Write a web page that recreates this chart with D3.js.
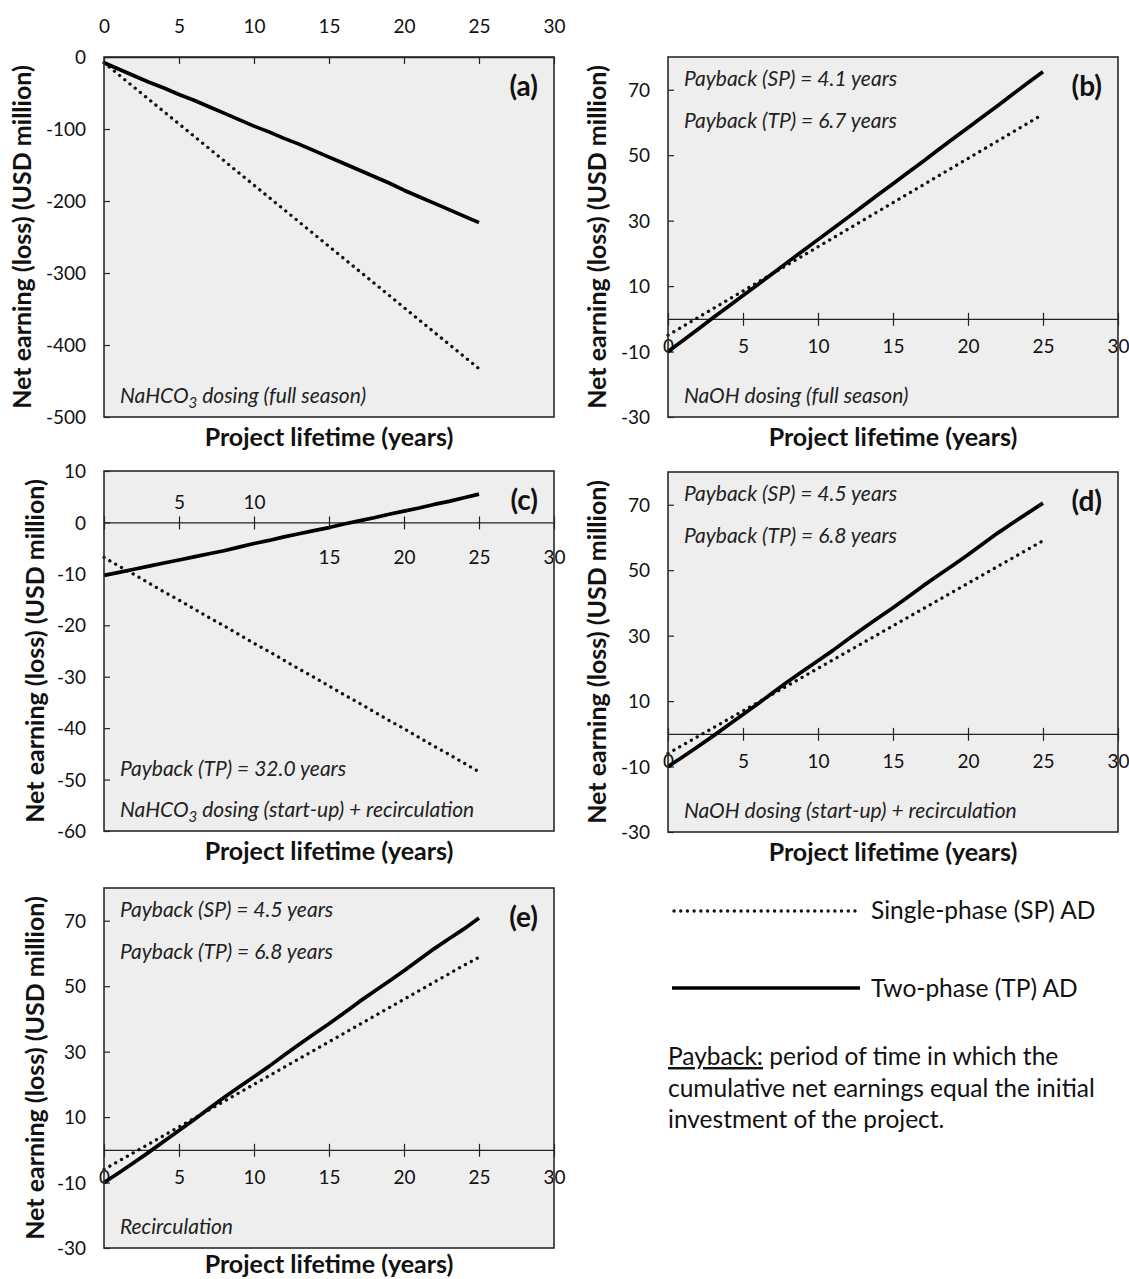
<!DOCTYPE html>
<html>
<head>
<meta charset="utf-8">
<script src="https://cdn.jsdelivr.net/npm/d3@7"></script>
<style>
body { margin: 0; background: #fff; }
svg text { font-family: Lato, "Open Sans", sans-serif; fill: #111; }
</style>
</head>
<body>
<div id="chart"></div>
<script>
// ------------------------------------------------------------------
//	net earnings over project lifetime, five scenarios
// ------------------------------------------------------------------
const years = [0,1,2,3,4,5,6,7,8,9,10,11,12,13,14,15,16,17,18,19,20,21,22,23,24,25]

const x_ticks = [0,5,10,15,20,25,30]
const y_ticks_a = [0,-100,-200,-300,-400,-500]
const y_ticks_c = [10,0,-10,-20,-30,-40,-50,-60]
const y_ticks_bde = [70,50,30,10,-10,-30]

// (a) NaHCO3 dosing (full season)
const a_sp = [-8,-25,-42,-59,-76,-93,-110,-127,-144,-161,-178,-195,-212,-229,-246,-263,-280,-297,-314,-331,-348,-365,-382,-399,-416,-433]
const a_tp = [-8,-17,-26,-35,-43,-52,-60,-69,-78,-87,-96,-104,-113,-121,-130,-139,-148,-157,-166,-175,-185,-194,-203,-212,-221,-230]

// (b) NaOH dosing (full season)
const b_sp = [-5,-2.3,0.4,3.1,5.8,8.5,11.2,13.9,16.6,19.3,22,24.7,27.4,30.1,32.8,35.5,38.2,40.9,43.6,46.3,49,51.7,54.4,57.1,59.8,62.5]
const b_tp = [-10,-6.6,-3.2,0.3,3.7,7.1,10.5,13.9,17.4,20.8,24.2,27.6,31,34.5,37.9,41.3,44.7,48.1,51.6,55,58.4,61.8,65.2,68.7,72.1,75.5]

// (c) NaHCO3 dosing (start-up) + recirculation
const c_sp = [-6.8,-8.5,-10.1,-11.8,-13.5,-15.1,-16.8,-18.5,-20.1,-21.8,-23.5,-25.1,-26.8,-28.5,-30.1,-31.8,-33.5,-35.1,-36.8,-38.5,-40.1,-41.8,-43.5,-45.1,-46.8,-48.5]
const c_tp = [-10.3,-9.7,-9.1,-8.5,-7.9,-7.3,-6.7,-6.1,-5.5,-4.8,-4.1,-3.5,-2.8,-2.2,-1.6,-1,-0.3,0.3,0.9,1.6,2.2,2.8,3.5,4.1,4.8,5.5]

// (d) NaOH dosing (start-up) + recirculation
const d_sp = [-6,-3.4,-0.8,1.8,4.4,7,9.6,12.2,14.8,17.4,20,22.6,25.2,27.8,30.4,33,35.6,38.2,40.8,43.4,46,48.6,51.2,53.8,56.4,59]
const d_tp = [-10,-7,-3.9,-0.7,2.6,5.9,9.2,12.6,16,19.2,22.3,25.5,28.9,32.2,35.4,38.5,41.8,45.2,48.4,51.5,54.7,58.1,61.4,64.5,67.5,70.5]

// (e) Recirculation
const e_sp = [-6,-3.4,-0.8,1.8,4.4,7,9.6,12.2,14.8,17.4,20,22.6,25.2,27.8,30.4,33,35.6,38.2,40.8,43.4,46,48.6,51.2,53.8,56.4,58.8]
const e_tp = [-10,-7,-3.9,-0.7,2.6,5.9,9.2,12.6,16,19.2,22.3,25.5,28.9,32.2,35.4,38.5,41.8,45.2,48.4,51.5,54.7,58.1,61.4,64.5,67.5,70.8]

const legend_labels = ["Single-phase (SP) AD","Two-phase (TP) AD"]
const y_title = "Net earning (loss) (USD million)"
const x_title = "Project lifetime (years)"

const W = 450
const H = 360

const panels = [
	{tag:"(a)", left:104, top:57, ydom:[-500,0], yticks:y_ticks_a, sp:a_sp, tp:a_tp,
	 xmode:"top", ytx:22, xty:29,
	 notes:[{t:["NaHCO","3"," dosing (full season)"], dy:H-14}]},
	{tag:"(b)", left:668, top:57, ydom:[-30,80], yticks:y_ticks_bde, sp:b_sp, tp:b_tp,
	 xmode:"below", ytx:597, xty:29,
	 notes:[{t:["Payback (SP) = 4.1 years"], dy:29},{t:["Payback (TP) = 6.7 years"], dy:71},
	        {t:["NaOH dosing (full season)"], dy:H-14}]},
	{tag:"(c)", left:104, top:471, ydom:[-60,10], yticks:y_ticks_c, sp:c_sp, tp:c_tp,
	 xmode:"split", ytx:35, xty:29,
	 notes:[{t:["Payback (TP) = 32.0 years"], dy:H-55},
	        {t:["NaHCO","3"," dosing (start-up) + recirculation"], dy:H-14}]},
	{tag:"(d)", left:668, top:472, ydom:[-30,80], yticks:y_ticks_bde, sp:d_sp, tp:d_tp,
	 xmode:"below", ytx:597, xty:29,
	 notes:[{t:["Payback (SP) = 4.5 years"], dy:29},{t:["Payback (TP) = 6.8 years"], dy:71},
	        {t:["NaOH dosing (start-up) + recirculation"], dy:H-14}]},
	{tag:"(e)", left:104, top:888, ydom:[-30,80], yticks:y_ticks_bde, sp:e_sp, tp:e_tp,
	 xmode:"below", ytx:35, xty:25,
	 notes:[{t:["Payback (SP) = 4.5 years"], dy:29},{t:["Payback (TP) = 6.8 years"], dy:71},
	        {t:["Recirculation"], dy:H-14}]}
]

const svg = d3.select("#chart").append("svg")
	.attr("width",1129)
	.attr("height",1279)

panels.forEach(function(p){ panel_proc(p) })
legend_proc()

// ------------------------------------------------------------------
function panel_proc (p)
{
const x = d3.scaleLinear().domain([0,30]).range([0,W])
const y = d3.scaleLinear().domain(p.ydom).range([H,0])

const g = svg.append("g")
	.attr("transform","translate(" + p.left + "," + p.top + ")")

g.append("rect")
	.attr("width",W)
	.attr("height",H)
	.attr("fill","#eeeeee")

// y axis, ticks pointing into the plot
const ya = g.append("g")
	.call(d3.axisLeft(y).tickValues(p.yticks).tickSize(-6).tickPadding(18)
		.tickFormat(function(d){ return String(d) }))
ya.select(".domain").remove()
ya.selectAll("line").attr("stroke","#222").attr("stroke-width",1.2)
ya.selectAll("text").style("font-size","19px").attr("dy","0.35em")

// x axis on the zero line
const xg = g.append("g").attr("transform","translate(0," + y(0) + ")")
if (p.xmode == "top")
	{
	xg.call(d3.axisTop(x).tickValues(x_ticks).tickSize(-7).tickSizeOuter(0).tickPadding(24)
		.tickFormat(function(d){ return String(d) }))
	}
else
	{
	xg.call(d3.axisBottom(x).tickValues(x_ticks).tickSize(7).tickSizeOuter(0)
		.tickPadding(p.xmode == "split" ? 21 : 14)
		.tickFormat(function(d){ return String(d) }))
	xg.selectAll(".tick line").attr("y1",-6)
	}
xg.select(".domain").attr("stroke","#222").attr("stroke-width",1.3)
xg.selectAll(".tick line").attr("stroke","#222").attr("stroke-width",1.2)
xg.selectAll("text").style("font-size","19px")

if (p.xmode == "split")
	{
	xg.selectAll(".tick text")
		.filter(function(d){ return d == 0 })
		.remove()
	xg.selectAll(".tick text")
		.filter(function(d){ return d == 5 || d == 10 })
		.attr("y",-13)
		.attr("dy","0em")
	}

// series
const line = d3.line()
	.x(function(d,i){ return x(years[i]) })
	.y(function(d){ return y(d) })

g.append("path")
	.datum(p.sp)
	.attr("d",line)
	.attr("fill","none")
	.attr("stroke","#111")
	.attr("stroke-width",3.3)
	.attr("stroke-linecap","round")
	.attr("stroke-dasharray","0.1,6.6")

g.append("path")
	.datum(p.tp)
	.attr("d",line)
	.attr("fill","none")
	.attr("stroke","#000")
	.attr("stroke-width",3.7)
	.attr("stroke-linejoin","round")

// border
g.append("rect")
	.attr("width",W)
	.attr("height",H)
	.attr("fill","none")
	.attr("stroke","#2a2a2a")
	.attr("stroke-width",1.6)

// panel tag
g.append("text")
	.attr("x",W - 16)
	.attr("y",39)
	.attr("text-anchor","end")
	.style("font-size","28px")
	.style("font-weight","bold")
	.text(p.tag)

// notes
p.notes.forEach(function(n){
	const t = g.append("text")
		.attr("x",16)
		.attr("y",n.dy)
		.style("font-size","21px")
		.style("font-style","italic")
		.style("fill","#222")
	t.append("tspan").text(n.t[0])
	if (n.t.length > 1)
		{
		t.append("tspan").attr("dy",5).style("font-size","15px").text(n.t[1])
		t.append("tspan").attr("dy",-5).text(n.t[2])
		}
	})

// axis titles
svg.append("text")
	.attr("transform","translate(" + p.ytx + "," + (p.top + H/2) + ") rotate(-90)")
	.attr("text-anchor","middle")
	.attr("dy","0.35em")
	.style("font-size","25px")
	.style("font-weight","bold")
	.text(y_title)

svg.append("text")
	.attr("x",p.left + W/2)
	.attr("y",p.top + H + p.xty)
	.attr("text-anchor","middle")
	.style("font-size","25px")
	.style("font-weight","bold")
	.text(x_title)
}

// ------------------------------------------------------------------
function legend_proc ()
{
const lg = svg.append("g")

lg.append("line")
	.attr("x1",674).attr("x2",858)
	.attr("y1",911).attr("y2",911)
	.attr("stroke","#111")
	.attr("stroke-width",3.3)
	.attr("stroke-linecap","round")
	.attr("stroke-dasharray","0.1,6.6")

lg.append("line")
	.attr("x1",672).attr("x2",860)
	.attr("y1",988).attr("y2",988)
	.attr("stroke","#000")
	.attr("stroke-width",3.7)

lg.append("text").attr("x",871).attr("y",919).style("font-size","24.5px").text(legend_labels[0])
lg.append("text").attr("x",871).attr("y",997).style("font-size","24.5px").text(legend_labels[1])

const para = lg.append("text").style("font-size","24.5px")
const l1 = para.append("tspan").attr("x",668).attr("y",1065)
l1.append("tspan").style("text-decoration","underline").text("Payback:")
l1.append("tspan").text(" period of time in which the")
para.append("tspan").attr("x",668).attr("y",1097).text("cumulative net earnings equal the initial")
para.append("tspan").attr("x",668).attr("y",1128).text("investment of the project.")
}
</script>
</body>
</html>
